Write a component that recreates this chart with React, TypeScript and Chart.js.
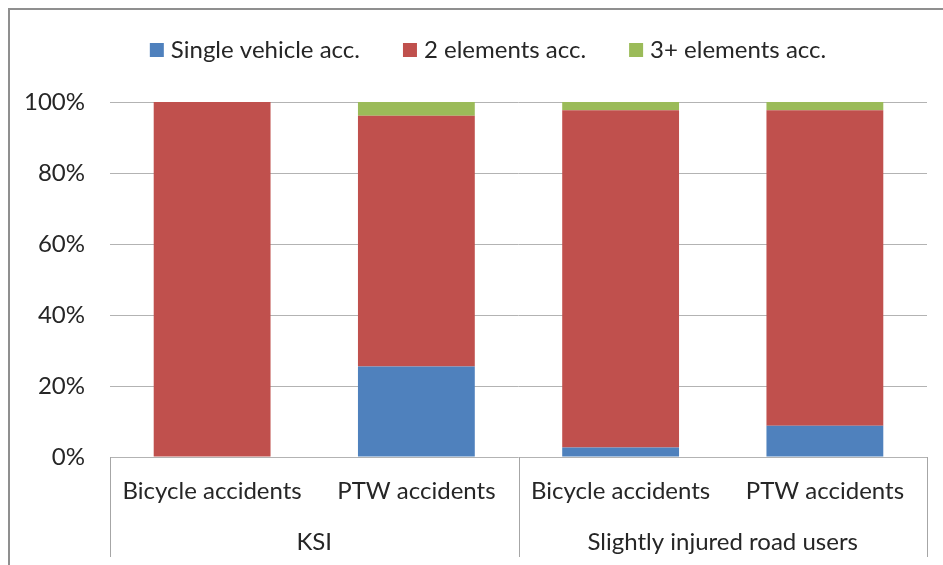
import React, { useEffect, useRef } from 'react';
import { Chart, registerables } from 'chart.js';

Chart.register(...registerables);

// ---- data ----
const categories = ['Bicycle accidents', 'PTW accidents', 'Bicycle accidents', 'PTW accidents'];
const groups = ['KSI', 'Slightly injured road users'];
const groupSizes = [2, 2];
const seriesNames = ['Single vehicle acc.', '2 elements acc.', '3+ elements acc.'];
const singleVehicle = [0, 25.5, 2.7, 8.8];
const twoElements = [100, 70.6, 95.0, 88.9];
const threePlus = [0, 3.9, 2.3, 2.3];
const seriesColors = ['#4F81BD', '#C0504D', '#9BBB59'];

const FONT = 'Lato, "Open Sans", "DejaVu Sans", sans-serif';
const TEXT = '#262626';

const decorPlugin = {
  id: 'decor',
  beforeDraw(chart: any) {
    const { ctx } = chart;
    ctx.save();
    ctx.fillStyle = '#ffffff';
    ctx.fillRect(0, 0, chart.width, chart.height);
    ctx.restore();
  },
  afterDraw(chart: any) {
    const { ctx, chartArea } = chart;
    const x = chart.scales.x;
    ctx.save();
    // outer frame (top + left visible)
    ctx.fillStyle = '#8f8f8f';
    ctx.fillRect(8, 8, chart.width - 8, 2);
    ctx.fillRect(8, 8, 2, chart.height - 8);

    // multi-level category axis: separators and group labels
    const bounds: number[] = [x.left];
    let idx = 0;
    groupSizes.forEach((n, g) => {
      idx += n;
      if (g < groupSizes.length - 1) {
        bounds.push((x.getPixelForTick(idx - 1) + x.getPixelForTick(idx)) / 2);
      }
    });
    bounds.push(x.right);
    ctx.strokeStyle = '#a6a6a6';
    ctx.lineWidth = 1;
    const yTop = chartArea.bottom;
    const yBot = chart.height - 8;
    bounds.forEach((b) => {
      const px = Math.round(b) + 0.5;
      ctx.beginPath();
      ctx.moveTo(px, yTop);
      ctx.lineTo(px, yBot);
      ctx.stroke();
    });
    ctx.font = `24px ${FONT}`;
    ctx.fillStyle = TEXT;
    ctx.textAlign = 'center';
    ctx.textBaseline = 'middle';
    groups.forEach((g, i) => {
      ctx.fillText(g, (bounds[i] + bounds[i + 1]) / 2, 542);
    });

    // legend
    const box = 14;
    const boxGap = 7;
    const itemGap = 43;
    const ds = chart.data.datasets;
    const widths = ds.map((d: any) => box + boxGap + ctx.measureText(d.label).width);
    const total = widths.reduce((a: number, b: number) => a + b, 0) + itemGap * (ds.length - 1);
    let cx = 488 - total / 2;
    ctx.textAlign = 'left';
    ds.forEach((d: any, i: number) => {
      ctx.fillStyle = d.backgroundColor;
      ctx.fillRect(cx, 43, box, box);
      ctx.fillStyle = TEXT;
      ctx.fillText(d.label, cx + box + boxGap, 50);
      cx += widths[i] + itemGap;
    });
    ctx.restore();
  },
};

export default function App() {
  const ref = useRef<HTMLCanvasElement | null>(null);

  useEffect(() => {
    if (!ref.current) return;
    const seriesData = [singleVehicle, twoElements, threePlus];
    const chart = new Chart(ref.current, {
      type: 'bar',
      data: {
        labels: categories,
        datasets: seriesNames.map((name, i) => ({
          label: name,
          data: seriesData[i],
          backgroundColor: seriesColors[i],
          borderWidth: 0,
          barPercentage: 0.572,
          categoryPercentage: 1,
        })),
      },
      options: {
        responsive: false,
        animation: false,
        layout: { padding: { top: 102, left: 0, right: 16, bottom: 0 } },
        plugins: {
          legend: { display: false },
          tooltip: { enabled: false },
        },
        scales: {
          x: {
            stacked: true,
            grid: { display: false, drawTicks: false },
            border: { display: false },
            ticks: {
              autoSkip: false,
              maxRotation: 0,
              minRotation: 0,
              padding: 20,
              color: TEXT,
              font: { family: FONT, size: 24, lineHeight: 1.2 },
            },
            afterFit: (s: any) => {
              s.height = 108;
            },
          },
          y: {
            stacked: true,
            min: 0,
            max: 100,
            grid: { color: '#b3b3b3', lineWidth: 1, drawTicks: false },
            border: { display: false },
            ticks: {
              stepSize: 20,
              padding: 25,
              color: TEXT,
              font: { family: FONT, size: 24, lineHeight: 1.2 },
              callback: (v: any) => `${v}%`,
            },
            afterFit: (s: any) => {
              s.width = 110;
            },
          },
        },
      },
      plugins: [decorPlugin],
    });
    return () => chart.destroy();
  }, []);

  return (
    <div style={{ position: 'fixed', left: 0, top: 0, width: 943, height: 565, background: '#fff' }}>
      <canvas ref={ref} width={943} height={565} style={{ display: 'block' }} />
    </div>
  );
}
